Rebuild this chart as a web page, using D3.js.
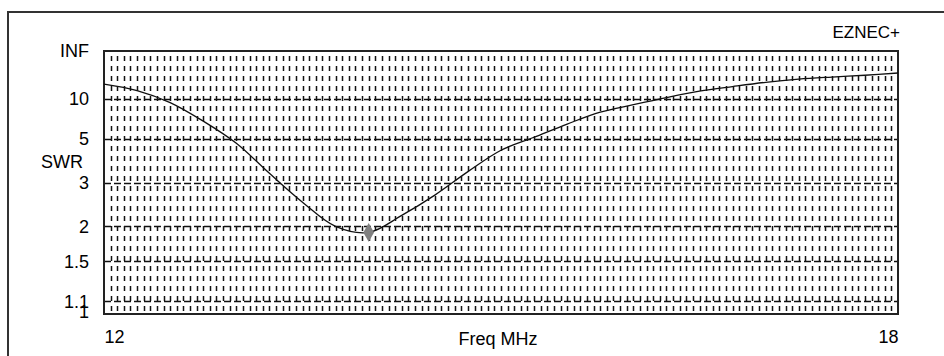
<!DOCTYPE html>
<html>
<head>
<meta charset="utf-8">
<script src="https://cdn.jsdelivr.net/npm/d3@7"></script>
<style>
  body { margin: 0; background: #fff; }
  svg { display: block; font-family: "Liberation Sans", Arial, sans-serif; }
</style>
</head>
<body>
<div id="chart"></div>
<script>
// SWR sweep
const freqs = [12.0, 12.25, 12.5, 12.75, 13.0, 13.25, 13.5, 13.75, 14.0, 14.25, 14.5, 14.75,
               15.0, 15.25, 15.5, 15.75, 16.0, 16.25, 16.5, 16.75, 17.0, 17.25, 17.5, 17.75, 18.0]
const swr = [14.9, 12.3, 9.2, 6.5, 4.7, 3.3, 2.48, 2.0, 1.9, 2.2, 2.65, 3.36,
             4.3, 5.1, 6.2, 7.6, 8.8, 10.3, 12.1, 13.8, 15.8, 17.7, 19.2, 20.7, 22.9]
const markerFreq = 14.0
const markerSwr = 1.9

const swrTicks = [Infinity, 10, 5, 3, 2, 1.5, 1.1, 1]
const swrTickLabels = ["INF", "10", "5", "3", "2", "1.5", "1.1", "1"]
const freqTicks = [12, 18]

const width = 944, height = 356
const margin = { top: 51, right: 46, bottom: 42, left: 104 }

// EZNEC scales SWR by reflection coefficient
const rho = s => (s === Infinity) ? 1 : (s - 1) / (s + 1)

const x = d3.scaleLinear().domain([12, 18]).range([margin.left, width - margin.right])
const y = d3.scaleLinear().domain([0, 1]).range([height - margin.bottom, margin.top])

const svg = d3.select('#chart').append('svg')
  .attr('width', width)
  .attr('height', height)

// outer frame (only top and left are in view)
svg.append('path')
  .attr('d', 'M8,356 V12 H944')
  .attr('fill', 'none')
  .attr('stroke', '#333')
  .attr('stroke-width', 2)

const grid = svg.append('g')

// dense vertical dashed lines, every 0.05 MHz
const vLines = d3.range(1, 120).map(i => 12 + i * 0.05)
grid.selectAll('.vline').data(vLines).enter().append('line')
  .attr('class', 'vline')
  .attr('x1', d => Math.round(x(d)) + 0.5)
  .attr('x2', d => Math.round(x(d)) + 0.5)
  .attr('y1', y(1) + 5)
  .attr('y2', y(0))
  .attr('stroke', '#111')
  .attr('stroke-width', 1.5)
  .attr('stroke-dasharray', '5,5')

// horizontal dashed lines at each SWR tick
grid.selectAll('.hline').data(swrTicks.filter(d => d !== Infinity && d !== 1)).enter().append('line')
  .attr('class', 'hline')
  .attr('x1', x(12))
  .attr('x2', x(18))
  .attr('y1', d => Math.round(y(rho(d))) + 0.5)
  .attr('y2', d => Math.round(y(rho(d))) + 0.5)
  .attr('stroke', '#111')
  .attr('stroke-width', 1.3)
  .attr('stroke-dasharray', '7,3')

// plot border
svg.append('rect')
  .attr('x', x(12))
  .attr('y', y(1))
  .attr('width', x(18) - x(12))
  .attr('height', y(0) - y(1))
  .attr('fill', 'none')
  .attr('stroke', '#222')
  .attr('stroke-width', 2)

// SWR curve
const line = d3.line()
  .x((d, i) => x(freqs[i]))
  .y(d => y(rho(d)))
  .curve(d3.curveCatmullRom)

svg.append('path')
  .datum(swr)
  .attr('d', line)
  .attr('fill', 'none')
  .attr('stroke', '#111')
  .attr('stroke-width', 1.3)

// marker
svg.append('path')
  .attr('d', d3.symbol().type(d3.symbolDiamond).size(100))
  .attr('transform', 'translate(' + x(markerFreq) + ',' + y(rho(markerSwr)) + ')')
  .attr('fill', '#808080')

// y axis labels
const yAxis = d3.axisLeft(y)
  .tickValues(swrTicks.map(rho))
  .tickFormat((d, i) => swrTickLabels[i])
  .tickSize(0)
  .tickPadding(15)

const gy = svg.append('g')
  .attr('transform', 'translate(' + margin.left + ',0)')
  .call(yAxis)
gy.select('.domain').remove()
gy.selectAll('text')
  .attr('font-size', 18)
  .attr('font-family', '"Liberation Sans", Arial, sans-serif')
  .attr('fill', '#000')
  .attr('dy', (d, i) => i === swrTicks.length - 1 ? '0.18em' : '0.32em')

svg.append('text')
  .attr('x', 83)
  .attr('y', 168)
  .attr('text-anchor', 'end')
  .attr('font-size', 18)
  .attr('fill', '#000')
  .text('SWR')

// x axis labels
const xAxis = d3.axisBottom(x)
  .tickValues(freqTicks)
  .tickFormat(d3.format('d'))
  .tickSize(0)
  .tickPadding(16)

const gx = svg.append('g')
  .attr('transform', 'translate(0,' + y(0) + ')')
  .call(xAxis)
gx.select('.domain').remove()
gx.selectAll('text')
  .attr('font-size', 18)
  .attr('font-family', '"Liberation Sans", Arial, sans-serif')
  .attr('fill', '#000')
  .attr('text-anchor', (d, i) => i === 0 ? 'start' : 'end')

svg.append('text')
  .attr('x', (x(12) + x(18)) / 2 - 3)
  .attr('y', 345)
  .attr('text-anchor', 'middle')
  .attr('font-size', 18)
  .attr('fill', '#000')
  .text('Freq MHz')

svg.append('text')
  .attr('x', 900)
  .attr('y', 38)
  .attr('text-anchor', 'end')
  .attr('font-size', 17)
  .attr('fill', '#000')
  .text('EZNEC+')
</script>
</body>
</html>
